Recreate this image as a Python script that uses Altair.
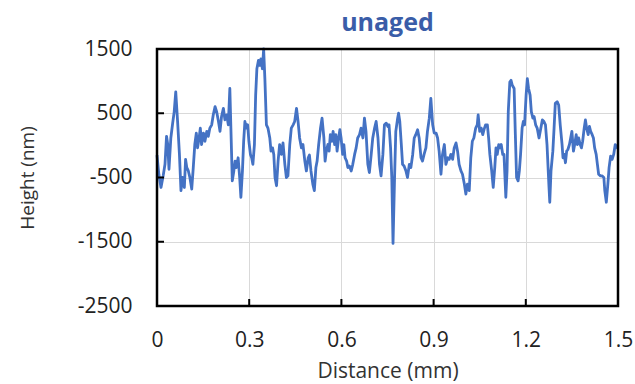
import altair as alt
import pandas as pd

distance_mm = [
    0.000, 0.006, 0.013, 0.020, 0.026, 0.031, 0.035, 0.039, 0.045, 0.051,
    0.056, 0.061, 0.067, 0.073, 0.078, 0.083, 0.089, 0.093, 0.097, 0.102,
    0.107, 0.113, 0.118, 0.123, 0.128, 0.132, 0.137, 0.141, 0.145, 0.151,
    0.156, 0.162, 0.167, 0.172, 0.178, 0.183, 0.189, 0.194, 0.200, 0.205,
    0.210, 0.216, 0.221, 0.227, 0.232, 0.237, 0.245, 0.250, 0.254, 0.258,
    0.264, 0.269, 0.273, 0.278, 0.282, 0.286, 0.291, 0.295, 0.299, 0.304,
    0.308, 0.312, 0.317, 0.321, 0.325, 0.330, 0.334, 0.338, 0.343, 0.347,
    0.351, 0.356, 0.361, 0.367, 0.371, 0.376, 0.380, 0.384, 0.389, 0.394,
    0.399, 0.405, 0.410, 0.416, 0.421, 0.426, 0.432, 0.437, 0.443, 0.448,
    0.454, 0.459, 0.464, 0.470, 0.475, 0.481, 0.486, 0.492, 0.496, 0.501,
    0.507, 0.512, 0.517, 0.521, 0.526, 0.532, 0.537, 0.543, 0.547, 0.551,
    0.556, 0.560, 0.564, 0.569, 0.573, 0.578, 0.582, 0.586, 0.591, 0.595,
    0.599, 0.604, 0.608, 0.612, 0.617, 0.621, 0.626, 0.632, 0.637, 0.643,
    0.648, 0.653, 0.659, 0.664, 0.670, 0.675, 0.680, 0.686, 0.691, 0.697,
    0.702, 0.708, 0.713, 0.719, 0.724, 0.729, 0.735, 0.740, 0.746, 0.751,
    0.755, 0.760, 0.764, 0.768, 0.773, 0.777, 0.783, 0.786, 0.790, 0.795,
    0.799, 0.804, 0.810, 0.815, 0.821, 0.826, 0.832, 0.837, 0.842, 0.848,
    0.853, 0.859, 0.864, 0.869, 0.875, 0.880, 0.886, 0.891, 0.897, 0.902,
    0.908, 0.913, 0.918, 0.924, 0.929, 0.935, 0.940, 0.946, 0.951, 0.956,
    0.962, 0.967, 0.973, 0.978, 0.983, 0.989, 0.994, 1.000, 1.005, 1.010,
    1.016, 1.021, 1.026, 1.031, 1.037, 1.042, 1.045, 1.050, 1.055, 1.060,
    1.064, 1.069, 1.075, 1.079, 1.083, 1.089, 1.094, 1.099, 1.103, 1.107,
    1.112, 1.116, 1.120, 1.125, 1.129, 1.135, 1.139, 1.143, 1.148, 1.152,
    1.156, 1.162, 1.166, 1.170, 1.175, 1.179, 1.183, 1.188, 1.192, 1.196,
    1.201, 1.205, 1.209, 1.214, 1.218, 1.223, 1.227, 1.232, 1.237, 1.243,
    1.249, 1.254, 1.259, 1.264, 1.269, 1.275, 1.278, 1.282, 1.288, 1.292,
    1.296, 1.302, 1.307, 1.312, 1.318, 1.321, 1.325, 1.329, 1.333, 1.337,
    1.342, 1.346, 1.350, 1.355, 1.359, 1.364, 1.368, 1.372, 1.377, 1.381,
    1.385, 1.390, 1.394, 1.398, 1.403, 1.407, 1.411, 1.416, 1.420, 1.424,
    1.429, 1.433, 1.437, 1.443, 1.448, 1.454, 1.457, 1.462, 1.467, 1.471,
    1.476, 1.481, 1.486, 1.491, 1.500,
]

height_nm = [
    -150, -450, -655, -475, -295, 141, 13, -372, 115, 346,
    526, 833, 372, -141, -705, -500, -655, -218, -346, -398,
    -500, -680, -346, 13, 192, -39, 115, 269, 13, 192,
    64, 218, 141, 269, 320, 474, 603, 526, 372, 218,
    449, 577, 397, 474, 320, 885, -552, -398, -244, -346,
    -193, -500, -808, -398, 64, 372, 269, 320, 64, -141,
    -193, -295, 13, 782, 1193, 1321, 1244, 1346, 1193, 1500,
    1039, 320, 269, 115, -90, -39, -141, -500, -628, -244,
    13, -141, 38, -295, -500, -475, 13, 269, 320, 372,
    577, 372, 115, -39, 13, -244, -398, -193, -150, -398,
    -603, -705, -346, -244, 13, 269, 423, 115, -244, -90,
    13, -90, 167, 64, 218, 13, 167, -90, 115, 244,
    115, -141, 13, -193, -244, -346, -321, -398, -295, -141,
    -39, 115, 167, 269, 115, 423, 218, -295, -423, -141,
    115, 269, 372, 115, -295, -475, -141, 320, 346, 295,
    320, -39, -500, -1526, -500, 218, 423, 500, 372, 13,
    -295, -321, -398, -500, -295, -346, -141, 115, 167, 244,
    115, -193, -244, -141, -39, 218, 423, 731, 320, 192,
    192, 115, -90, -449, -141, 13, -295, -193, -218, -141,
    -218, -39, 38, -90, -295, -398, -449, -603, -757, -603,
    -705, -193, 64, 115, 269, 320, 474, 218, 269, 167,
    244, 320, 320, 115, -141, -398, -654, -346, -39, -141,
    13, -39, 13, -141, -141, -808, -398, 526, 987, 1013,
    936, 885, 167, -500, -552, -398, -141, 269, 372, 320,
    782, 1039, 885, 782, 526, 423, 449, 320, 269, 115,
    269, 397, 372, 320, 13, -603, -885, -398, -90, 269,
    654, 680, 628, 320, 13, -193, -141, -270, -90, -64,
    13, 115, 218, -90, 13, 167, 13, 115, 13, -39,
    64, 269, 397, 269, 167, 295, 218, 167, 115, -39,
    -141, -295, -449, -475, -475, -500, -705, -885, -603, -346,
    -167, -218, -141, 13, -50,
]

x_ticks = [0, 0.3, 0.6, 0.9, 1.2, 1.5]
y_ticks = [-2500, -1500, -500, 500, 1500]
x_inner_ticks = [0.3, 0.6, 0.9, 1.2]
y_inner_ticks = [-1500, -500, 500]

W, H = 461, 257
FONT = "Open Sans"

df = pd.DataFrame({"d": distance_mm, "h": height_nm})
xt = pd.DataFrame({"d": x_inner_ticks})
yt = pd.DataFrame({"h": y_inner_ticks})
frame_df = pd.DataFrame({"d0": [0.0], "d1": [1.5], "h0": [-2500], "h1": [1500]})

xscale = alt.Scale(domain=[0, 1.5], nice=False, zero=False)
yscale = alt.Scale(domain=[-2500, 1500], nice=False, zero=False)

line = alt.Chart(df).mark_line(color="#4472C4", strokeWidth=2.8, strokeJoin="round").encode(
    x=alt.X("d:Q", scale=xscale,
            axis=alt.Axis(values=x_ticks, title="Distance (mm)",
                          labelExpr="datum.value == 0 ? '0' : format(datum.value, '.1f')",
                          grid=True, gridColor="#D9D9D9", ticks=False, tickSize=0, domain=False,
                          labelFont=FONT, labelFontSize=21, labelColor="#222222", labelPadding=23,
                          titleFont=FONT, titleFontSize=21, titleFontWeight="normal", titleColor="#333333",
                          titlePadding=10, labelFlush=False)),
    y=alt.Y("h:Q", scale=yscale,
            axis=alt.Axis(values=y_ticks, title="Height (nm)", grid=True, gridColor="#D9D9D9",
                          labelExpr="'' + datum.value",
                          ticks=False, tickSize=0, domain=False,
                          labelFont=FONT, labelFontSize=21, labelColor="#222222", labelPadding=25,
                          titleFont=FONT, titleFontSize=19, titleFontWeight="normal", titleColor="#333333",
                          titlePadding=40, labelFlush=False)),
)

frame = alt.Chart(frame_df).mark_rect(fill=None, filled=False, stroke="black", strokeWidth=2.5).encode(
    x=alt.X("d0:Q", scale=xscale), x2="d1:Q",
    y=alt.Y("h0:Q", scale=yscale), y2="h1:Q",
)

xtick_layer = alt.Chart(xt).mark_rule(color="black", stroke="black", strokeWidth=2).encode(
    x=alt.X("d:Q", scale=xscale),
    y=alt.value(H),
    y2=alt.value(H - 7),
)
ytick_layer = alt.Chart(yt).mark_rule(color="black", stroke="black", strokeWidth=2).encode(
    y=alt.Y("h:Q", scale=yscale),
    x=alt.value(0),
    x2=alt.value(7),
)

chart = alt.layer(line, frame, xtick_layer, ytick_layer).properties(
    width=W, height=H,
    background="white",
    title=alt.TitleParams("unaged", font=FONT, fontSize=25, fontWeight="bold", color="#3A5DA8",
                          anchor="middle", offset=2),
    autosize=alt.AutoSizeParams(type="none"),
    padding={"left": 157, "top": 49, "right": 17, "bottom": 78},
).configure_view(stroke=None)

chart.save("out.html", embed_options={"renderer": "svg", "actions": False})
